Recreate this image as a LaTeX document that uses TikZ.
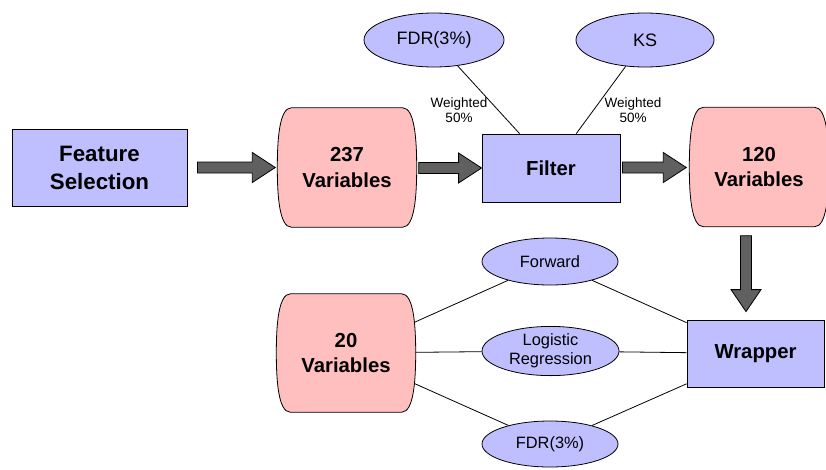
\documentclass[tikz,border=0pt]{standalone}
\usepackage{fontspec}
\setmainfont{Liberation Sans}
\usetikzlibrary{shapes.geometric,calc}
\definecolor{lav}{RGB}{191,191,255}
\definecolor{pinkf}{RGB}{255,191,191}
\definecolor{agray}{RGB}{96,96,96}
\pgfdeclarelayer{background}
\pgfsetlayers{background,main}
\newcommand\drumpath[1]{%
  \draw[fill=pinkf, line width=0.8pt]
    ([xshift=14pt]#1.north west) -- ([xshift=-14pt]#1.north east)
    .. controls ([xshift=-2pt]#1.north east) and ([yshift=-32pt]#1.north east) .. (#1.east)
    .. controls ([yshift=32pt]#1.south east) and ([xshift=-2pt]#1.south east) .. ([xshift=-14pt]#1.south east)
    -- ([xshift=14pt]#1.south west)
    .. controls ([xshift=2pt]#1.south west) and ([yshift=32pt]#1.south west) .. (#1.west)
    .. controls ([yshift=-32pt]#1.north west) and ([xshift=2pt]#1.north west) .. cycle;}
\tikzset{
  boxnode/.style={draw, line width=0.8pt, fill=lav, rectangle, inner sep=0pt, align=center,
    font=\fontsize{20}{23}\selectfont\bfseries},
  drum/.style={rectangle, inner sep=0pt, align=center, minimum width=139pt, minimum height=119pt,
    font=\fontsize{20.3}{25.5}\selectfont\bfseries},
  ell/.style={draw, line width=0.8pt, fill=lav, ellipse, inner sep=0pt, align=center},
  wlab/.style={inner sep=0pt, align=center, font=\fontsize{13.5}{15.5}\selectfont},
  thin/.style={line width=0.8pt},
  harrow/.style={draw=black, line width=0.8pt, fill=agray,
    to path={let \p1=(\tikztostart), \p2=(\tikztotarget) in
      ({\x1},{\y1+5.5pt}) -- ({\x2-23pt},{\y1+5.5pt}) -- ({\x2-23pt},{\y1+15pt}) -- ({\x2},{\y1})
      -- ({\x2-23pt},{\y1-15pt}) -- ({\x2-23pt},{\y1-5.5pt}) -- ({\x1},{\y1-5.5pt}) -- cycle}},
  varrow/.style={draw=black, line width=0.8pt, fill=agray,
    to path={let \p1=(\tikztostart), \p2=(\tikztotarget) in
      ({\x1-5.5pt},{\y1}) -- ({\x1-5.5pt},{\y2+22pt}) -- ({\x1-15pt},{\y2+22pt}) -- ({\x1},{\y2})
      -- ({\x1+15pt},{\y2+22pt}) -- ({\x1+5.5pt},{\y2+22pt}) -- ({\x1+5.5pt},{\y1}) -- cycle}},
}
\begin{document}
\begin{tikzpicture}[x=1pt,y=-1pt]
\useasboundingbox (0,0) rectangle (826,469);
% nodes
\node[boxnode, minimum width=175pt, minimum height=77pt, font=\fontsize{22.3}{28}\selectfont\bfseries] (fs) at (99.5,167.5) {Feature\\Selection};
\node[drum] (v237) at (347,167.5) {237\\Variables};
\node[boxnode, minimum width=138pt, minimum height=68pt, font=\fontsize{20.3}{23}\selectfont\bfseries] (filter) at (551,168) {Filter};
\node[drum] (v120) at (759,167) {120\\Variables};
\node[ell, minimum width=140pt, minimum height=54pt, font=\fontsize{18}{21}\selectfont] (fdr1) at (434,40) {FDR(3\%)};
\node[ell, minimum width=138pt, minimum height=54pt, font=\fontsize{18}{21}\selectfont] (ks) at (645,40) {KS};
\node[wlab] (w1) at (459,110) {Weighted\\50\%};
\node[wlab] (w2) at (633,110) {Weighted\\50\%};
\node[drum, minimum height=118pt] (v20) at (346,353) {20\\Variables};
\node[ell, minimum width=136pt, minimum height=47pt, font=\fontsize{16.4}{19.5}\selectfont] (fwd) at (550,261.5) {Forward};
\node[ell, minimum width=137pt, minimum height=48pt, font=\fontsize{16.4}{19.5}\selectfont] (lr) at (550.5,351) {Logistic\\Regression};
\node[ell, minimum width=136pt, minimum height=46pt, font=\fontsize{16.4}{19.5}\selectfont] (fdr2) at (550,444) {FDR(3\%)};
\node[boxnode, minimum width=137pt, minimum height=67pt, font=\fontsize{20.3}{23}\selectfont\bfseries] (wrap) at (755.5,353.5) {Wrapper};
% background: connectors, then drum shapes
\begin{pgfonlayer}{background}
  \draw[thin] (fdr1) -- (filter);
  \draw[thin] (ks) -- (filter);
  \draw[thin] (v20.center) -- (fwd);
  \draw[thin] (v20.center) -- (lr);
  \draw[thin] (v20.center) -- (fdr2);
  \draw[thin] (wrap) -- (fwd);
  \draw[thin] (wrap) -- (lr);
  \draw[thin] (wrap) -- (fdr2);
  \drumpath{v237}
  \drumpath{v120}
  \drumpath{v20}
\end{pgfonlayer}
% block arrows
\path[harrow] ([xshift=10pt]fs.east) to ([xshift=-2pt]v237.west);
\path[harrow] ([xshift=2pt,yshift=-0.5pt]v237.east) to ([yshift=-0.5pt]filter.west);
\path[harrow] ([xshift=2pt,yshift=0.5pt]filter.east) to ([xshift=-3pt]v120.west);
\path[varrow] ([xshift=-13pt,yshift=-9pt]v120.south) to ([xshift=-9.5pt,yshift=8pt]wrap.north);
\end{tikzpicture}
\end{document}
